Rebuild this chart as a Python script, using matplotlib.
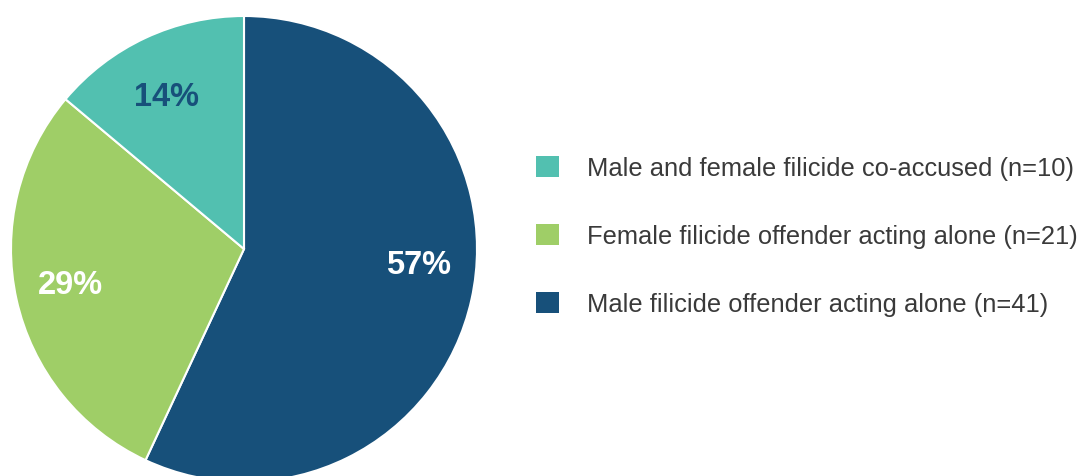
import matplotlib.pyplot as plt

# data
labels = ['Male filicide offender acting alone (n=41)',
          'Female filicide offender acting alone (n=21)',
          'Male and female filicide co-accused (n=10)']
counts = [41, 21, 10]
colors = ['#17507A', '#9FCE67', '#52C0B0']
pct_colors = ['white', 'white', '#17507A']
# label spots (pixels from top-left of picture)
pct_spots = [(419, 265), (70, 285), (167, 97)]

W, H = 1077, 477
fig = plt.figure(figsize=(W / 100, H / 100), dpi=100)
ax = fig.add_axes([0, 0, 1, 1])

wedges, _, autotexts = ax.pie(
    counts, colors=colors, startangle=90, counterclock=False,
    center=(244, H - 250), radius=233, frame=True,
    autopct=lambda p: f'{p:.0f}%',
    wedgeprops=dict(edgecolor='white', linewidth=1.5),
    textprops=dict(family='Liberation Sans', fontsize=23.5, fontweight='bold'))

for t, c, (x, y) in zip(autotexts, pct_colors, pct_spots):
    t.set_color(c)
    t.set_position((x, H - y))

ax.set_xlim(0, W)
ax.set_ylim(0, H)
ax.set_aspect('equal')
ax.axis('off')

leg = ax.legend(wedges[::-1], labels[::-1], loc='center left',
                bbox_to_anchor=(536 / W, 1 - 237 / H), frameon=False,
                prop=dict(family='Liberation Sans', size=18.4),
                handlelength=0.9, handleheight=0.9, handletextpad=1.08,
                labelspacing=1.7, borderpad=0, borderaxespad=0)
for h in leg.legend_handles:
    h.set_edgecolor('none')
for t in leg.get_texts():
    t.set_color('#3a3a3a')

fig.savefig('out.png', dpi=100)
